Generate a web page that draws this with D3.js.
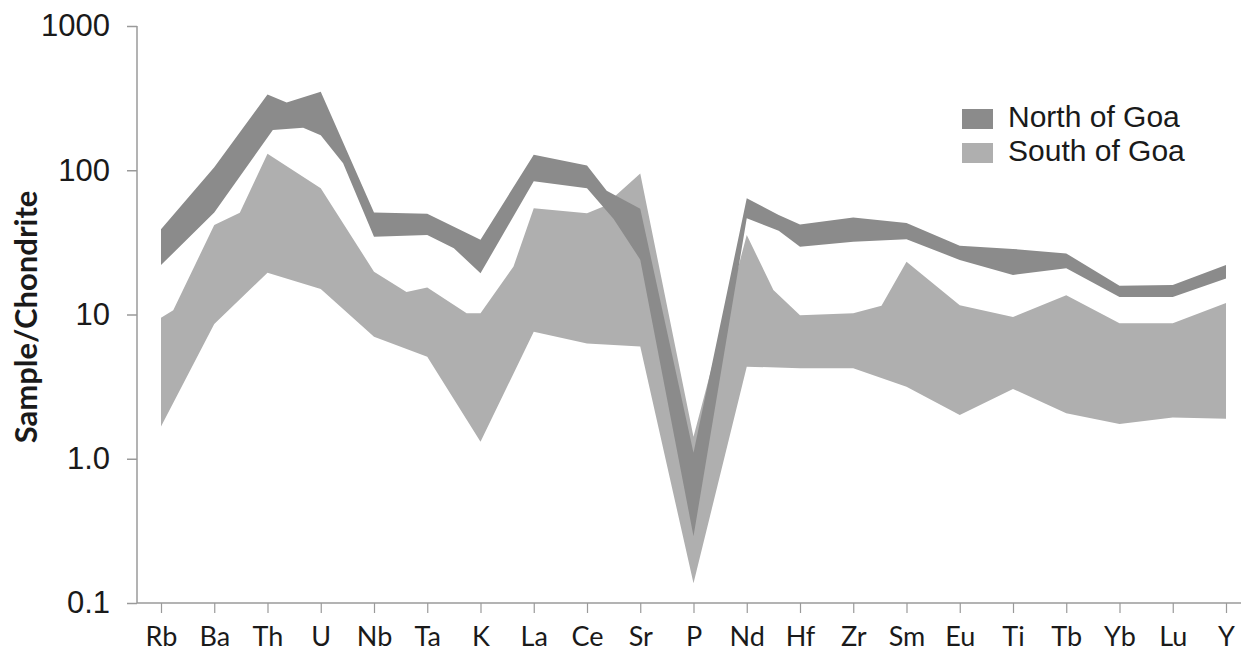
<!DOCTYPE html>
<html>
<head>
<meta charset="utf-8">
<script src="https://cdn.jsdelivr.net/npm/d3@7"></script>
<style>
  body { margin: 0; background: #ffffff; }
</style>
</head>
<body>
<div id="spider"></div>
<script>
// Elements along the x axis
var categories = ["Rb", "Ba", "Th", "U", "Nb", "Ta", "K", "La", "Ce", "Sr", "P",
                  "Nd", "Hf", "Zr", "Sm", "Eu", "Ti", "Tb", "Yb", "Lu", "Y"];

// Y ticks and how they are printed
var yTicks = [0.1, 1, 10, 100, 1000];
var yTickLabels = ["0.1", "1.0", "10", "100", "1000"];

var seriesNames = ["North of Goa", "South of Goa"];

// Band edges: [element position, sample/chondrite]
var northUpper = [[0, 39], [1, 105], [2, 335], [2.36, 295], [3, 350], [4, 51], [5, 50],
                  [6, 33], [7, 128], [8, 108], [8.37, 72], [9, 54], [10, 1.1], [11, 64],
                  [11.6, 49], [12, 42], [13, 47], [14, 43], [15, 30], [16, 28.5], [17, 26.5],
                  [18, 15.8], [19, 16], [20, 22]];
var northLower = [[0, 22], [1, 51], [2.1, 190], [2.67, 197], [3, 175], [3.42, 112], [4, 34.6],
                  [5, 35.6], [5.5, 28.8], [6, 19.3], [7, 84], [8, 75], [8.5, 46], [9, 24],
                  [10, 0.29], [11, 46.4], [11.6, 38], [12, 29.5], [13, 32], [14, 33.2], [15, 23.9],
                  [16, 18.8], [17, 20.9], [18, 13.2], [19, 13.2], [20, 17.8]];

var southUpper = [[0, 9.5], [0.23, 10.7], [1, 41.7], [1.48, 50.8], [2, 130], [3, 75], [4, 19.8],
                  [4.61, 14.3], [5, 15.4], [5.74, 10.2], [6, 10.2], [6.62, 21.5], [7, 54.5],
                  [8, 50.3], [8.31, 56], [9, 95], [10, 1.42], [11, 35.6], [11.5, 14.8], [12, 9.9],
                  [13, 10.2], [13.53, 11.5], [14, 23.2], [15, 11.6], [16, 9.6], [17, 13.6],
                  [18, 8.7], [19, 8.7], [20, 12]];
var southLower = [[0, 1.67], [1, 8.6], [2, 19.5], [3, 15], [4, 7.0], [5, 5.1], [6, 1.31],
                  [7, 7.6], [8, 6.3], [9, 6.0], [10, 0.137], [11, 4.35], [12, 4.24], [13, 4.24],
                  [14, 3.16], [15, 2.01], [16, 3.05], [17, 2.07], [18, 1.74], [19, 1.93], [20, 1.89]];

var width = 1241, height = 651;
var axisLeft = 137, axisBottom = 603, plotTop = 26;

var svg = d3.select("#spider")
  .append("svg")
    .attr("width", width)
    .attr("height", height);

// Scales
var x = d3.scaleLinear()
  .domain([0, categories.length - 1])
  .range([161, 1226]);

var y = d3.scaleLog()
  .domain([0.1, 1000])
  .range([axisBottom, plotTop]);

// Bands: upper edge then lower edge backwards
var line = d3.line()
  .x(function(d) { return x(d[0]); })
  .y(function(d) { return y(d[1]); });

function band(upper, lower) {
  return line(upper.concat(lower.slice().reverse())) + "Z";
}

svg.append("path")
  .attr("d", band(southUpper, southLower))
  .attr("fill", "#afafaf");

svg.append("path")
  .attr("d", band(northUpper, northLower))
  .attr("fill", "#8b8b8b");

// X axis
var xAxis = svg.append("g")
  .attr("transform", "translate(0," + axisBottom + ")")
  .call(d3.axisBottom(x)
    .tickValues(d3.range(categories.length))
    .tickFormat(function(i) { return categories[i]; })
    .tickSize(10)
    .tickPadding(14));
xAxis.select(".domain").remove();
xAxis.selectAll(".tick line").attr("stroke", "#9a9a9a").attr("stroke-width", 1.2);
xAxis.selectAll(".tick text")
  .attr("font-family", "Lato, 'Open Sans', sans-serif")
  .attr("font-size", "27px")
  .attr("fill", "#1a1a1a");

// Y axis
var yAxis = svg.append("g")
  .attr("transform", "translate(" + axisLeft + ",0)")
  .call(d3.axisLeft(y)
    .tickValues(yTicks)
    .tickFormat(function(d, i) { return yTickLabels[i]; })
    .tickSize(10)
    .tickPadding(17));
yAxis.select(".domain").remove();
yAxis.selectAll(".tick line").attr("stroke", "#9a9a9a").attr("stroke-width", 1.5);
yAxis.selectAll(".tick text")
  .attr("font-family", "'Liberation Sans', Arial, sans-serif")
  .attr("font-size", "31px")
  .attr("fill", "#1a1a1a");

// Axis lines
svg.append("line")
  .attr("x1", axisLeft).attr("x2", axisLeft)
  .attr("y1", plotTop).attr("y2", axisBottom)
  .attr("stroke", "#9a9a9a").attr("stroke-width", 1.5);
svg.append("line")
  .attr("x1", axisLeft).attr("x2", width)
  .attr("y1", axisBottom).attr("y2", axisBottom)
  .attr("stroke", "#9a9a9a").attr("stroke-width", 1.5);

// Y axis label
svg.append("text")
  .attr("transform", "translate(25,317) rotate(-90)")
  .attr("text-anchor", "middle")
  .attr("dominant-baseline", "central")
  .attr("font-family", "Lato, 'Open Sans', sans-serif")
  .attr("font-weight", "bold")
  .attr("font-size", "31px")
  .attr("fill", "#1a1a1a")
  .text("Sample/Chondrite");

// Legend
var legendColors = ["#8b8b8b", "#afafaf"];
var legend = svg.selectAll(".legend")
  .data(seriesNames)
  .enter()
  .append("g")
    .attr("class", "legend")
    .attr("transform", function(d, i) { return "translate(962," + (109 + i * 34) + ")"; });

legend.append("rect")
  .attr("width", 31)
  .attr("height", 20)
  .attr("fill", function(d, i) { return legendColors[i]; });

legend.append("text")
  .attr("x", 46)
  .attr("y", 18)
  .attr("font-family", "'Liberation Sans', Arial, sans-serif")
  .attr("font-size", "30px")
  .attr("fill", "#1a1a1a")
  .text(function(d) { return d; });
</script>
</body>
</html>
